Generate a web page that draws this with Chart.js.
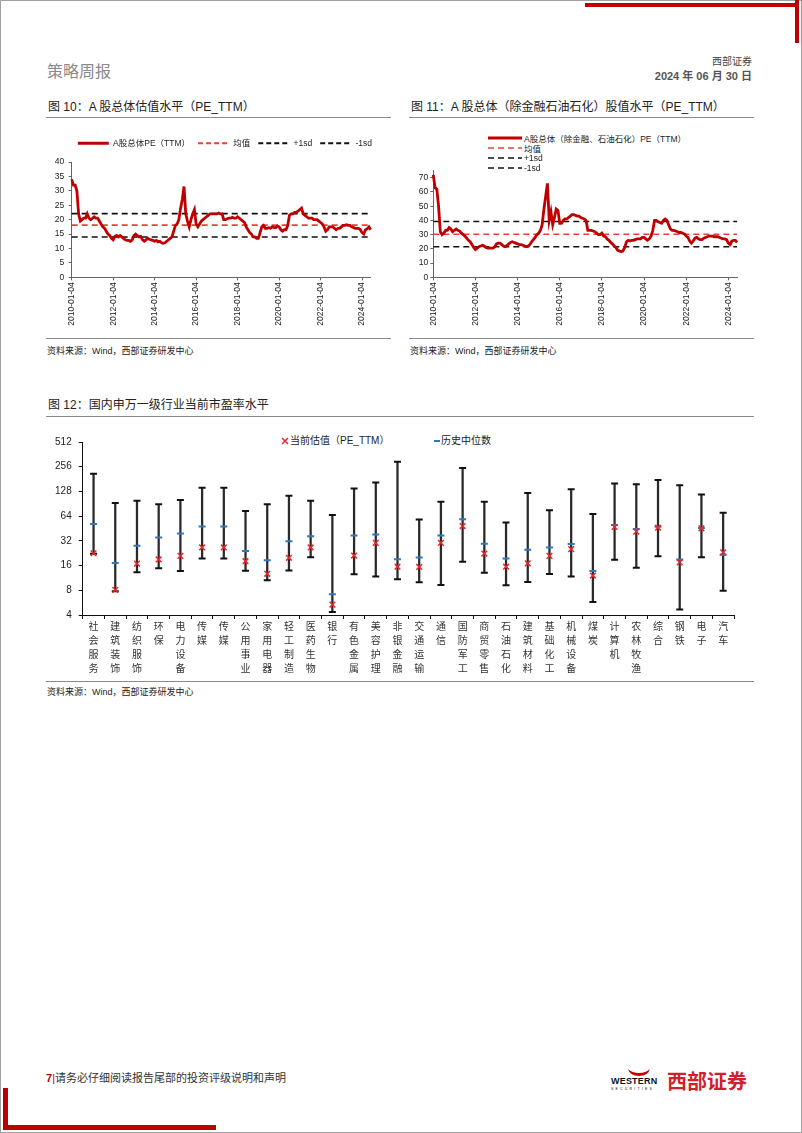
<!DOCTYPE html>
<html lang="zh-CN">
<head>
<meta charset="utf-8">
<title>策略周报</title>
<script src="https://cdn.jsdelivr.net/npm/chart.js@4.4.1/dist/chart.umd.min.js"></script>
<style>
  html, body { margin:0; padding:0; background:#fff; }
  body { position:relative; width:802px; height:1133px; overflow:hidden; font-family:"Liberation Sans","Noto Sans CJK SC",sans-serif; color:#222; }
  .a { position:absolute; white-space:nowrap; line-height:1; }
  .frame { position:absolute; left:0; top:0; width:800px; height:1131px; border:1px solid #a0a0a0; }
  .red { position:absolute; background:#C00000; }
  .hr { position:absolute; height:1px; background:#8a8a8a; }
  canvas { position:absolute; }
  .lg { position:absolute; left:488px; height:10px; display:flex; align-items:center; font-size:8.5px; white-space:nowrap; color:#222; }
  .lg svg { margin-right:2px; }
</style>
</head>
<body>
<div class="frame"></div>
<div class="red" style="left:585px;top:3px;width:214px;height:4px"></div>
<div class="red" style="left:795px;top:0;width:4px;height:43px"></div>
<div class="red" style="left:3px;top:1088px;width:5px;height:42px"></div>
<div class="red" style="left:3px;top:1125px;width:213px;height:5px"></div>

<div class="a" style="left:47px;top:64px;font-size:16px;color:#8a8a8a">策略周报</div>
<div class="a" style="right:50px;top:57px;font-size:10px;color:#444">西部证券</div>
<div class="a" style="right:50px;top:71px;font-size:11px;font-weight:bold;color:#555">2024 年 06 月 30 日</div>

<div class="a" style="left:48px;top:101px;font-size:12px">图 10：A 股总体估值水平（PE_TTM）</div>
<div class="a" style="left:411px;top:101px;font-size:12px">图 11：A 股总体（除金融石油石化）股值水平（PE_TTM）</div>
<div class="hr" style="left:46px;top:117px;width:345px"></div>
<div class="hr" style="left:409px;top:117px;width:345px"></div>

<canvas id="c10" width="340" height="205" style="left:40px;top:131px"></canvas>
<canvas id="c11" width="345" height="173" style="left:400px;top:163px"></canvas>

<div class="lg" style="top:133px"><svg width="34" height="4"><line x1="0" y1="2" x2="34" y2="2" stroke="#C00000" stroke-width="3"/></svg><span>A股总体（除金融、石油石化）PE（TTM）</span></div>
<div class="lg" style="top:143px"><svg width="34" height="4"><line x1="0" y1="2" x2="34" y2="2" stroke="#E8413C" stroke-width="1.6" stroke-dasharray="6 4"/></svg><span>均值</span></div>
<div class="lg" style="top:153px"><svg width="34" height="4"><line x1="0" y1="2" x2="34" y2="2" stroke="#111" stroke-width="1.6" stroke-dasharray="6 4"/></svg><span>+1sd</span></div>
<div class="lg" style="top:163px"><svg width="34" height="4"><line x1="0" y1="2" x2="34" y2="2" stroke="#111" stroke-width="1.6" stroke-dasharray="6 4"/></svg><span>-1sd</span></div>

<div class="hr" style="left:46px;top:338px;width:345px"></div>
<div class="hr" style="left:409px;top:338px;width:345px"></div>
<div class="a" style="left:47px;top:347px;font-size:9px">资料来源：Wind，西部证券研发中心</div>
<div class="a" style="left:410px;top:347px;font-size:9px">资料来源：Wind，西部证券研发中心</div>

<div class="a" style="left:48px;top:399px;font-size:12px">图 12：国内申万一级行业当前市盈率水平</div>
<div class="hr" style="left:46px;top:416px;width:708px"></div>

<svg class="a" style="left:281px;top:437px" width="8" height="8"><path d="M1 1L7 7M7 1L1 7" stroke="#E8262B" stroke-width="1.5"/></svg>
<div class="a" style="left:290px;top:436px;font-size:10px">当前估值（PE_TTM）</div>
<div class="a" style="left:434px;top:440px;width:6px;height:2px;background:#2E78C0"></div>
<div class="a" style="left:441px;top:436px;font-size:10px">历史中位数</div>

<canvas id="c12" width="700" height="250" style="left:40px;top:429px"></canvas>

<div class="hr" style="left:46px;top:681px;width:708px"></div>
<div class="a" style="left:47px;top:688px;font-size:9px">资料来源：Wind，西部证券研发中心</div>

<div class="a" style="left:46px;top:1073px;font-size:11px;color:#333"><span style="color:#C00000;font-weight:bold">7</span><span style="color:#C00000">|</span>请务必仔细阅读报告尾部的投资评级说明和声明</div>

<svg class="a" style="left:626px;top:1068px" width="26" height="10"><path d="M2 1 Q4 8 13 8 Q22 8 24 1 Q20 5 13 5 Q6 5 2 1Z" fill="#C00000"/></svg>
<div class="a" style="left:611px;top:1077px;font-size:9px;font-weight:bold;color:#111;letter-spacing:0.2px">WESTERN</div>
<div class="a" style="left:611px;top:1088px;font-size:3.5px;color:#111;letter-spacing:2.2px">SECURITIES</div>
<div class="a" style="left:667px;top:1072px;font-size:20px;font-weight:bold;color:#D0202A">西部证券</div>

<script>
Chart.defaults.font.family = '"Liberation Sans","Noto Sans CJK SC",sans-serif';
Chart.defaults.color = '#222';
Chart.defaults.animation = false;

// ---------- category labels (months) ----------
const months = [];
for (let y = 2010; y <= 2024; y++) {
  for (let m = 1; m <= 12; m++) {
    if (y === 2024 && m > 6) break;
    months.push(y + '-' + String(m).padStart(2, '0'));
  }
}
const dateTicks = ['2010-01-04','2012-01-04','2014-01-04','2016-01-04','2018-01-04','2020-01-04','2022-01-04','2024-01-04'];

// ---------- Figure 10: A-share overall PE (TTM), monthly ----------
const pe10 = [
  34, 32, 32, 30, 22, 19.5, 20, 20.5, 20.5, 22, 20.5, 20,
  20.5, 21, 20.5, 20.5, 19.5, 18.5, 17.5, 17, 16, 15, 14.5, 13.5,
  13, 14.2, 14.5, 14, 14.5, 14, 13.5, 13, 12.8, 12.8, 12.5, 13,
  14.5, 15, 14.5, 14, 14.2, 13, 12.5, 13, 13.5, 13.2, 13, 12.8,
  12.5, 12.8, 12.3, 12.5, 12, 11.8, 12, 12.5, 13, 13.5, 14, 16,
  18, 18.5, 20, 24, 27, 31.5, 22, 19.5, 17.5, 20, 22, 23.5,
  18.5, 17.5, 18.5, 19.5, 20, 20.5, 21, 21.5, 22, 22, 22, 22,
  22, 22.3, 22, 22, 20, 20, 20.3, 20.5, 20.5, 20.8, 20.5, 20.5,
  21, 20.5, 20, 19.5, 19, 17.5, 16.5, 15.5, 15, 14, 14, 13.5,
  13.5, 15.5, 17.5, 18, 17, 17, 17.2, 17, 17.5, 17.3, 17.2, 17.8,
  17.5, 16.5, 16, 16.5, 16.5, 18, 21.5, 22, 22, 22.5, 22.5, 23,
  23.5, 24, 22, 21.5, 21, 20.5, 20.5, 20.5, 20, 20, 20, 19.5,
  19, 18.5, 17.5, 16, 16.5, 17.5, 17.5, 17.5, 17, 16.5, 17, 17,
  17.5, 18, 18, 18.2, 18, 18, 17.5, 17.3, 17, 17, 17, 16.5,
  15.5, 15, 16.5, 16.8, 17.5, 16.5
];
const mean10 = 18.1, plus1sd10 = 22.1, minus1sd10 = 14.0;

// ---------- Figure 11: ex-financials & petrochemicals PE (TTM), monthly ----------
const pe11 = [
  72, 63, 62, 50, 32, 30, 31, 33, 33, 35, 34, 32,
  33, 34, 33, 32.5, 31, 30, 29, 27.5, 26, 25, 23, 21,
  19.5, 20.5, 21.5, 22, 22.5, 22, 21, 20.5, 20.5, 20.5, 20.5, 21.5,
  23.5, 24, 24, 23, 22, 21.5, 22.5, 23.5, 24.5, 25, 24.5, 24,
  23.5, 23, 23, 22.5, 22, 21.5, 22, 23, 25, 26.5, 28, 30,
  31, 33, 37, 48, 57, 66, 40, 46, 37, 42, 48, 47,
  38, 38, 40, 41, 41, 42, 43, 44, 44, 43.5, 43, 43,
  42, 41.5, 41, 40, 33, 33, 33, 32.5, 32, 31, 30, 30,
  31, 29, 28.5, 27, 26, 24.5, 23.5, 22, 21, 19, 18.5, 18,
  18.5, 21, 25, 26, 25.5, 26, 26, 26.5, 27, 27, 27, 28,
  28, 27, 26, 27, 29, 33, 40, 40, 39, 38.5, 38, 40,
  41, 40, 37, 34, 33, 33, 32.5, 32, 31.5, 31.5, 31, 30.5,
  29, 28, 25.5, 24, 25.5, 27.5, 28, 27, 26.5, 26.5, 27.5, 28,
  28.5, 29, 29, 29, 28.5, 28.5, 28.5, 28, 27.5, 27, 27, 26.5,
  24, 23, 25.5, 26, 26, 24.5
];
const mean11 = 30.3, plus1sd11 = 39.2, minus1sd11 = 21.5;
const yTicks11 = [0, 10, 20, 30, 40, 50, 60, 70];

// ---------- Figure 12: SW level-1 industries PE ----------
const industries = ['社会服务','建筑装饰','纺织服饰','环保','电力设备','传媒','传媒','公用事业','家用电器','轻工制造',
  '医药生物','银行','有色金属','美容护理','非银金融','交通运输','通信','国防军工','商贸零售','石油石化',
  '建筑材料','基础化工','机械设备','煤炭','计算机','农林牧渔','综合','钢铁','电子','汽车'];
const maxPE = [210, 92.5, 98.6, 89.2, 100.4, 141.8, 141.8, 73.7, 89.2, 113,
  98.6, 66.0, 139.3, 164.2, 294, 58.1, 96, 247, 96, 53.6,
  122.6, 75.7, 135.6, 67.9, 159.7, 156.8, 176.6, 152.6, 117.2, 70.4];
const minPE = [22.3, 7.8, 13.3, 14.8, 13.7, 19.5, 19.5, 13.8, 10.6, 13.9,
  20.2, 4.34, 12.5, 11.8, 10.9, 10.0, 9.3, 17.8, 13.1, 9.2,
  10.1, 12.6, 11.8, 5.76, 18.8, 15.1, 20.8, 4.67, 20.2, 7.9];
const medianPE = [51.2, 17.2, 27.8, 35.2, 39.3, 48.0, 48.0, 24.0, 18.6, 31.6,
  36.5, 7.16, 37.2, 38.2, 19.1, 20.0, 37.2, 58.7, 29.6, 19.5,
  24.9, 26.6, 29.4, 13.7, 49.8, 44.6, 47.6, 19.0, 45.9, 21.7];
const currentPE = [22.6, 8.1, 16.9, 19.0, 21.0, 26.6, 26.6, 18.1, 12.7, 19.9,
  26.6, 5.35, 21.2, 30.2, 15.5, 15.4, 30.2, 48.5, 22.4, 15.5,
  17.0, 21.0, 25.4, 12.1, 47.2, 41.5, 46.3, 17.5, 45.5, 23.2];
const yTicks12 = [4, 8, 16, 32, 64, 128, 256, 512];

// ---------- helpers ----------
const tickMonthMap = {};
dateTicks.forEach(d => { tickMonthMap[d.slice(0, 7)] = d; });
function hline(v) { return [{x: months[0], y: v}, {x: months[months.length - 1], y: v}]; }

function dateAxis(padRight, h) {
  return {
    type: 'category',
    afterBuildTicks(axis) { axis.ticks = axis.ticks.filter(t => tickMonthMap[months[t.value]]); },
    afterFit(axis) { axis.paddingRight = padRight; axis.paddingLeft = 0; axis.height = h; },
    ticks: { autoSkip: false, minRotation: 90, maxRotation: 90, font: { size: 8.5 }, padding: 2, color: '#222',
      callback(v) { return tickMonthMap[months[v]] || ''; } },
    grid: { display: true, drawOnChartArea: false, drawTicks: true, tickLength: 3, color: '#666' },
    border: { display: true, color: '#666', width: 1 }
  };
}

const legendNudge = {
  id: 'legendNudge',
  beforeLayout(chart) {
    const lg = chart.legend;
    if (lg && !lg.__nudged) {
      const fit = lg.fit;
      lg.fit = function () { fit.call(this); this.height += 4.5; };
      lg.__nudged = true;
    }
  }
};

function sdSets(mean, p, m) {
  return [
    { label: '均值', data: hline(mean), borderColor: '#E8413C', backgroundColor: '#E8413C', borderWidth: 1.6, borderDash: [6, 4], pointRadius: 0 },
    { label: '+1sd', data: hline(p), borderColor: '#111', backgroundColor: '#111', borderWidth: 1.6, borderDash: [6, 4], pointRadius: 0 },
    { label: '-1sd', data: hline(m), borderColor: '#111', backgroundColor: '#111', borderWidth: 1.6, borderDash: [6, 4], pointRadius: 0 }
  ];
}

// ---------- Chart 10 ----------
new Chart(document.getElementById('c10'), {
  type: 'line',
  data: {
    labels: months,
    datasets: [
      { label: 'A股总体PE（TTM）', data: pe10, borderColor: '#C00000', backgroundColor: '#C00000', borderWidth: 2.8, pointRadius: 0 }
    ].concat(sdSets(mean10, plus1sd10, minus1sd10))
  },
  options: {
    responsive: false, animation: false,
    layout: { padding: 0 },
    plugins: {
      legend: { position: 'top', align: 'end',
        labels: { usePointStyle: true, pointStyle: 'line', pointStyleWidth: 31, padding: 8, font: { size: 8.5 }, color: '#222',
          generateLabels(chart) {
            const items = Chart.defaults.plugins.legend.labels.generateLabels(chart);
            items.forEach(it => {
              const ds = chart.data.datasets[it.datasetIndex];
              it.lineDash = ds.borderDash ? [5, 3] : [];
              it.lineWidth = ds.borderDash ? 2 : 3;
              it.strokeStyle = ds.borderColor;
              it.pointStyle = 'line';
            });
            return items;
          } } },
      tooltip: { enabled: false }
    },
    scales: {
      x: dateAxis(9.3, 58.7),
      y: { min: 0, max: 40,
        ticks: { stepSize: 5, font: { size: 8.5 }, padding: 4.5, color: '#222' },
        grid: { drawOnChartArea: false, tickLength: 3, color: '#666' },
        border: { color: '#666' },
        afterFit(a) { a.width = 31.7; } }
    }
  },
  plugins: [legendNudge]
});

// ---------- Chart 11 ----------
new Chart(document.getElementById('c11'), {
  type: 'line',
  data: {
    labels: months,
    datasets: [
      { label: 'A股总体（除金融、石油石化）PE（TTM）', data: pe11, borderColor: '#C00000', backgroundColor: '#C00000', borderWidth: 2.8, pointRadius: 0 }
    ].concat(sdSets(mean11, plus1sd11, minus1sd11))
  },
  options: {
    responsive: false, animation: false,
    layout: { padding: { top: 7.6, left: 0, right: 0, bottom: 0 } },
    plugins: { legend: { display: false }, tooltip: { enabled: false } },
    scales: {
      x: dateAxis(7.9, 58.7),
      y: { min: 0, max: 75,
        afterBuildTicks(a) { a.ticks = yTicks11.map(v => ({ value: v })); },
        ticks: { font: { size: 8.5 }, padding: 2, color: '#222' },
        grid: { drawOnChartArea: false, tickLength: 3, color: '#666' },
        border: { color: '#666' },
        afterFit(a) { a.width = 33.3; } }
    }
  }
});

// ---------- Chart 12 ----------
new Chart(document.getElementById('c12'), {
  type: 'bar',
  data: {
    labels: industries.map(s => s.split('')),
    datasets: [
      { type: 'line', label: '当前估值（PE_TTM）', data: currentPE, showLine: false, pointStyle: 'crossRot', pointRadius: 4,
        pointBorderWidth: 1.5, pointBorderColor: '#E8262B', pointBackgroundColor: '#E8262B', order: 0 },
      { type: 'line', label: '历史中位数', data: medianPE, showLine: false, pointStyle: 'line', pointRadius: 3.5,
        pointBorderWidth: 2, pointBorderColor: '#2E78C0', pointBackgroundColor: '#2E78C0', order: 1 },
      { type: 'line', label: '最大值', data: maxPE, showLine: false, pointStyle: 'line', pointRadius: 3.5,
        pointBorderWidth: 2, pointBorderColor: '#111', pointBackgroundColor: '#111', order: 2 },
      { type: 'line', label: '最小值', data: minPE, showLine: false, pointStyle: 'line', pointRadius: 3.5,
        pointBorderWidth: 2, pointBorderColor: '#111', pointBackgroundColor: '#111', order: 2 },
      { type: 'bar', label: '区间', data: minPE.map((v, i) => [v, maxPE[i]]), backgroundColor: '#2a2a2a', barThickness: 1.6, order: 3 }
    ]
  },
  options: {
    responsive: false, animation: false,
    layout: { padding: { top: 8, right: 4, left: 0, bottom: 0 } },
    plugins: { legend: { display: false }, tooltip: { enabled: false } },
    scales: {
      x: { offset: true,
        ticks: { font: { size: 10, lineHeight: 1.4 }, padding: 1, autoSkip: false, maxRotation: 0, minRotation: 0, color: '#333' },
        grid: { display: true, offset: true, drawOnChartArea: false, tickLength: 4, color: '#111' },
        border: { color: '#111' },
        afterFit(a) { a.height = 64; } },
      y: { type: 'logarithmic', min: 4, max: 512,
        afterBuildTicks(a) { a.ticks = yTicks12.map(v => ({ value: v })); },
        ticks: { font: { size: 10 }, padding: 7, color: '#222', callback: v => String(v) },
        grid: { drawOnChartArea: false, tickLength: 4, color: '#111' },
        border: { color: '#111' },
        afterFit(a) { a.width = 42.7; } }
    }
  }
});
</script>
</body>
</html>
